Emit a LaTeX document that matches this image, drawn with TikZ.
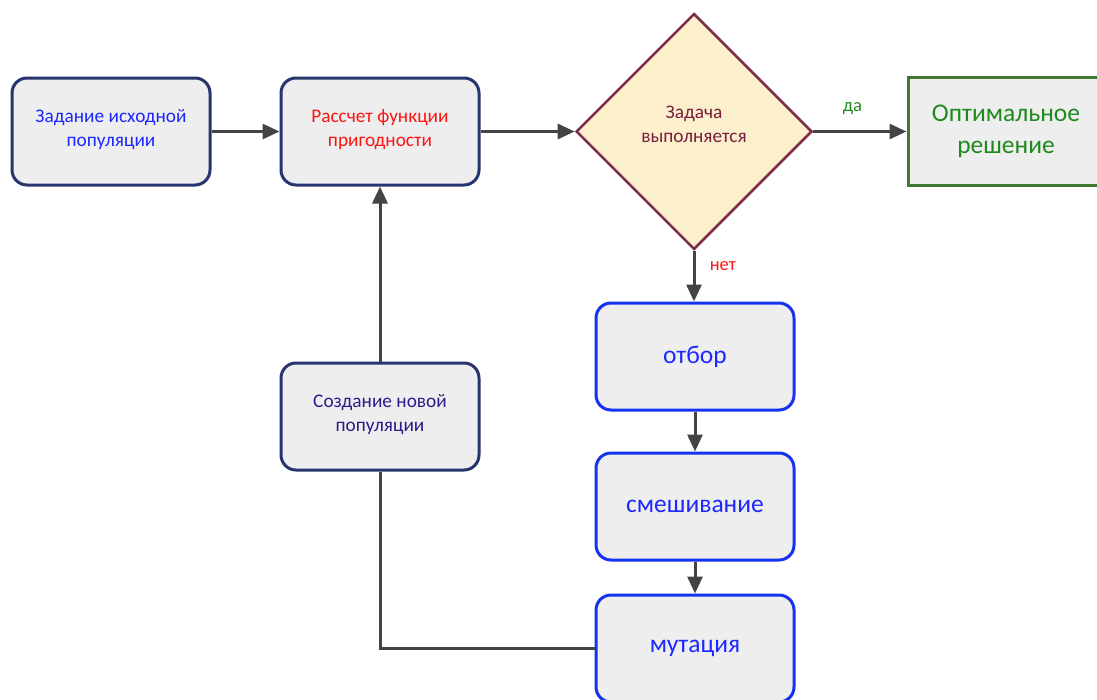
\documentclass[tikz,border=0pt]{standalone}
\usepackage{fontspec}
\setmainfont{Carlito}
\usetikzlibrary{arrows.meta,shapes.geometric}

\definecolor{navyline}{RGB}{40,52,110}
\definecolor{boxfill}{RGB}{238,238,238}
\definecolor{bluetext}{RGB}{28,40,255}
\definecolor{redtext}{RGB}{255,20,20}
\definecolor{maroonline}{RGB}{125,45,72}
\definecolor{maroontext}{RGB}{122,30,64}
\definecolor{creamfill}{RGB}{252,239,203}
\definecolor{greenline}{RGB}{63,122,48}
\definecolor{greentext}{RGB}{30,138,30}
\definecolor{blueline}{RGB}{20,50,240}
\definecolor{indigotext}{RGB}{45,26,140}
\definecolor{arrowgray}{RGB}{68,68,68}

\tikzset{
  smalltext/.style={font=\fontsize{19.3}{24}\selectfont},
  bigtext/.style={font=\fontsize{25.5}{32}\selectfont},
  navybox/.style={draw=navyline, fill=boxfill, line width=3pt, rounded corners=15pt,
    minimum width=198pt, minimum height=107pt, inner sep=0pt, align=center, smalltext},
  bluebox/.style={draw=blueline, fill=boxfill, line width=3pt, rounded corners=15pt,
    minimum width=198pt, minimum height=107pt, inner sep=0pt, align=center, bigtext, text=bluetext},
  decision/.style={diamond, aspect=1, draw=maroonline, fill=creamfill, line width=2.5pt,
    minimum width=236pt, minimum height=236pt, inner sep=0pt, align=center, smalltext, text=maroontext},
  resultbox/.style={draw=greenline, fill=boxfill, line width=3pt,
    minimum width=196pt, minimum height=108pt, inner sep=0pt, align=center, bigtext, text=greentext},
  flow/.style={draw=arrowgray, line width=3pt, -{Triangle[length=17pt,width=15pt]}},
  link/.style={draw=arrowgray, line width=3pt},
  edgelabel/.style={font=\fontsize{18.5}{20}\selectfont}
}

\begin{document}
\begin{tikzpicture}[x=1pt,y=-1pt]
  \useasboundingbox (0,0) rectangle (1097,699);

  % top row
  \node[navybox, text=bluetext] (init) at (111,131.5) {Задание исходной\\популяции\\[-17pt]};
  \node[navybox, text=redtext] (fit) at (380,131.5) {Рассчет функции\\пригодности\\[-17pt]};
  \node[decision] (cond) at (694,131.5) {Задача\\выполняется\\[-10pt]};
  \node[resultbox] (opt) at (1006,131.5) {Оптимальное\\решение};

  % genetic operators
  \node[bluebox] (sel) at (695,356.5) {отбор};
  \node[bluebox] (mix) at (695,506.5) {смешивание};
  \node[bluebox] (mut) at (695,648.5) {мутация};

  % new population
  \node[navybox, text=indigotext] (newpop) at (380,416.5) {Создание новой\\популяции\\[-17pt]};

  % connectors
  \draw[flow] (init) -- (fit);
  \draw[flow] (fit) -- (cond);
  \draw[flow] (cond) -- node[edgelabel, text=greentext, above=12pt, pos=0.42] {да} (opt);
  \draw[flow] (cond.south) -- node[edgelabel, text=redtext, right=11pt, pos=0.3] {нет} (cond.south |- sel.north);
  \draw[flow] (sel) -- (mix);
  \draw[flow] (mix) -- (mut);
  \draw[link] (mut.west) -| (newpop.south);
  \draw[flow] (newpop) -- (fit);
\end{tikzpicture}
\end{document}
